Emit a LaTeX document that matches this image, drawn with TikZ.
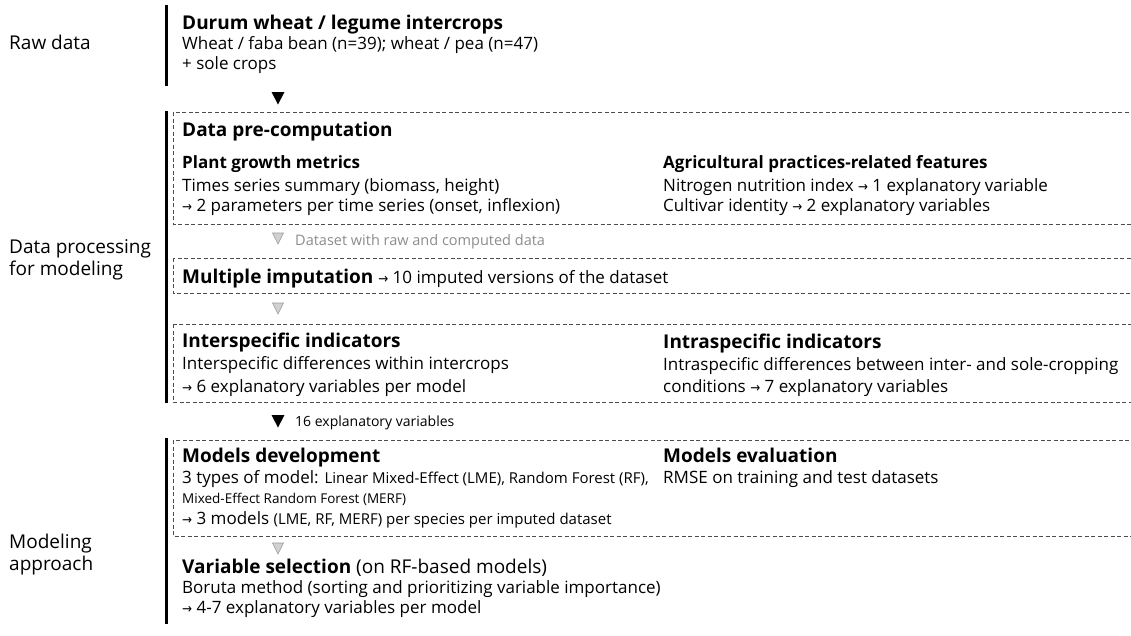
\documentclass[tikz,border=0pt]{standalone}
\usepackage{fontspec}
\setmainfont{Open Sans}
\newfontfamily\symfont{DejaVu Sans}
\usetikzlibrary{positioning}
\newcommand{\rarr}{\scalebox{0.7}[0.8]{\symfont →}}

\tikzset{
  lab/.style={anchor=base west,inner sep=0pt,font=\fontsize{19}{22}\selectfont},
  head/.style={anchor=base west,inner sep=0pt,font=\fontsize{19}{22}\selectfont\bfseries},
  sub/.style={anchor=base west,inner sep=0pt,font=\fontsize{17}{20}\selectfont\bfseries},
  body/.style={anchor=base west,inner sep=0pt,font=\fontsize{17}{20}\selectfont},
  note/.style={anchor=base west,inner sep=0pt,font=\fontsize{14}{16}\selectfont},
  frame/.style={draw=black!70,line width=0.9pt,dash pattern=on 4pt off 2.5pt},
  bar/.style={line width=3pt},
}
\newcommand{\sm}[1]{{\fontsize{15}{17}\selectfont #1}}

\begin{document}
\begin{tikzpicture}[x=1pt,y=-1pt]
  \useasboundingbox (0,0) rectangle (1131,635);
  \clip (0,0) rectangle (1131,635);
  % left column
  \node[lab] (rawlab) at (9,49) {Raw data};
  \node[lab] (proclab1) at (9,253) {Data processing};
  \node[lab] (proclab2) at (9,275) {for modeling};
  \node[lab] (modlab1) at (9,548) {Modeling};
  \node[lab] (modlab2) at (9,570) {approach};
  % phase bars
  \draw[bar] (166,5) -- (166,86);
  \draw[bar] (166,111) -- (166,403);
  \draw[bar] (166,438) -- (166,624);
  % dashed frames
  \draw[frame] (173,112) rectangle (1140,224);
  \draw[frame] (173,258) rectangle (1140,293);
  \draw[frame] (173,324) rectangle (1140,402);
  \draw[frame] (173,440) rectangle (1140,536);
  % flow marks
  \foreach \y in {92,415}{\fill (271.5,\y) -- (284.5,\y) -- (278,\y+12.5) -- cycle;}
  \foreach \y in {233,303,543}{\filldraw[fill=black!18,draw=black!40,line width=0.6pt] (272.5,\y) -- (283.5,\y) -- (278,\y+11) -- cycle;}

  % raw data
  \node[head] (durum) at (182,29) {Durum wheat / legume intercrops};
  \node[body] (raw1) at (182,49) {Wheat / faba bean (n=39); wheat / pea (n=47)};
  \node[body] (raw2) at (182,69) {+ sole crops};

  % pre-computation
  \node[head] (precomp) at (182,136) {Data pre-computation};
  \node[sub] (growth) at (182,168) {Plant growth metrics};
  \node[body] (growth1) at (182,191) {Times series summary (biomass, height)};
  \node[body] (growth2) at (182,211) {\rarr{} 2 parameters per time series (onset, inflexion)};
  \node[sub] (agri) at (663,168) {Agricultural practices-related features};
  \node[body] (agri1) at (663,191) {Nitrogen nutrition index \rarr{} 1 explanatory variable};
  \node[body] (agri2) at (663,211) {Cultivar identity \rarr{} 2 explanatory variables};
  \node[note,text=black!45,font=\fontsize{14.5}{16}\selectfont] (dsnote) at (295,245) {Dataset with raw and computed data};

  % imputation
  \node[head] (imput) at (182,283) {Multiple imputation \fontsize{17}{20}\selectfont\mdseries\rarr{} 10 imputed versions of the dataset};

  % indicators
  \node[head] (inter) at (182,347) {Interspecific indicators};
  \node[body] (inter1) at (182,369) {Interspecific differences within intercrops};
  \node[body] (inter2) at (182,392) {\rarr{} 6 explanatory variables per model};
  \node[head] (intra) at (663,348) {Intraspecific indicators};
  \node[body] (intra1) at (663,370) {Intraspecific differences between inter- and sole-cropping};
  \node[body] (intra2) at (663,392) {conditions \rarr{} 7 explanatory variables};
  \node[note] (varnote) at (295,426) {16 explanatory variables};

  % models
  \node[head] (moddev) at (182,462) {Models development};
  \node[body] (moddev1) at (182,483) {3 types of model: \sm{Linear Mixed-Effect (LME), Random Forest (RF),}};
  \node[note,font=\fontsize{13.5}{16}\selectfont] (moddev2) at (182,503) {Mixed-Effect Random Forest (MERF)};
  \node[body] (moddev3) at (182,524) {\rarr{} 3 models \sm{(LME, RF, MERF) per species per imputed dataset}};
  \node[head] (modeval) at (663,462) {Models evaluation};
  \node[body] (modeval1) at (663,483) {RMSE on training and test datasets};

  % selection
  \node[head] (varsel) at (182,573) {Variable selection \mdseries(on RF-based models)};
  \node[body] (varsel1) at (182,593) {Boruta method (sorting and prioritizing variable importance)};
  \node[body] (varsel2) at (182,613) {\rarr{} 4-7 explanatory variables per model};
\end{tikzpicture}
\end{document}
